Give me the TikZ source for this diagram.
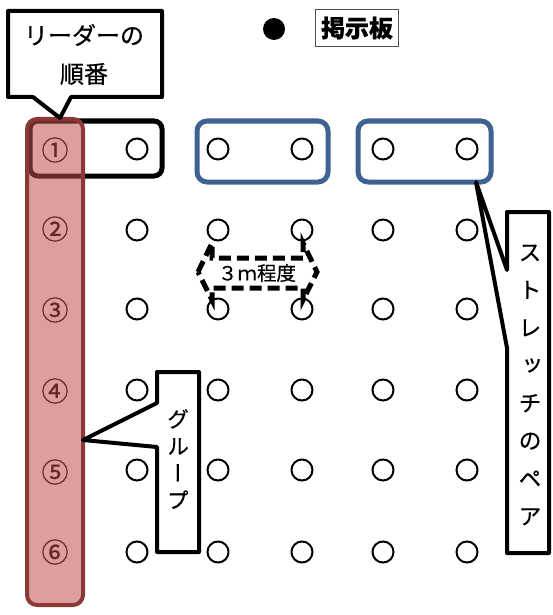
\documentclass[tikz,border=0pt]{standalone}
\usepackage{fontspec}
\newfontfamily\jp[FakeBold=0.5]{Noto Sans CJK JP}
\newfontfamily\jpn[FakeBold=0.8]{Noto Sans CJK JP}
\newfontfamily\jpv[RawFeature=+vert,FakeBold=0.5]{Noto Sans CJK JP}
\definecolor{pinkfill}{RGB}{192,80,77}
\definecolor{pinkline}{RGB}{140,56,54}
\definecolor{numred}{RGB}{105,36,36}
\definecolor{pairblue}{RGB}{62,99,145}
\definecolor{boardgray}{RGB}{80,80,80}
\tikzset{
  dot/.style={circle,draw=black,line width=2pt,fill=white,minimum size=21pt,inner sep=0pt},
  callout/.style={draw=black,fill=white,line width=4pt,line join=round},
  pairbox/.style={draw=pairblue,line width=5pt,rounded corners=10pt},
  rowbox/.style={draw=black,line width=5pt,rounded corners=8pt},
  lbl/.style={inner sep=0pt,font=\jp\fontsize{24}{28}\selectfont},
  vlbl/.style={inner sep=0pt,align=center},
  num/.style={inner sep=0pt,text=numred,font=\jpn\fontsize{27}{30}\selectfont},
  dist/.style={draw=black,line width=5pt,dash pattern=on 12pt off 6pt,line join=miter}
}
\begin{document}
\begin{tikzpicture}[x=1pt,y=-1pt]
\useasboundingbox (0,0) rectangle (552,615);
% row 1 box and pair boxes
\draw[rowbox] (30,121) rectangle (162,176);
\draw[pairbox] (197,121) rectangle (328,182);
\draw[pairbox] (358,121) rectangle (491,182);
% grid circles
\foreach \r/\y in {1/149,2/230,3/309,4/390,5/470,6/552}{
  \foreach \c/\x in {1/137,2/218,3/302,4/383,5/467}{
    \node[dot] (d\r\c) at (\x,\y) {};
  }
}
% distance marker
\draw[dist] (198,272) -- (212,243) -- (212,258) -- (303,258) -- (303,243)
  -- (317,272) -- (303,300) -- (303,288) -- (212,288) -- (212,300) -- cycle;
\node[inner sep=0pt,font=\jp\fontsize{19.5}{22}\selectfont] (dtxt) at (257,273) {３ｍ程度};
% group column
\draw[draw=pinkline,line width=4pt,fill=pinkfill,fill opacity=0.55,rounded corners=10pt]
  (27,119) rectangle (83,605);
\foreach \i/\s/\y in {1/①/150,2/②/229,3/③/310,4/④/391,5/⑤/472,6/⑥/552}{
  \node[num] (n\i) at (55,\y) {\s};
}
% board
\node[circle,fill=black,minimum size=22pt,inner sep=0pt] (bdot) at (274,29) {};
\node[draw=boardgray,line width=1.3pt,minimum width=83pt,minimum height=37pt,inner sep=0pt,
  font=\jp\bfseries\fontsize{24}{28}\selectfont] (board) at (357,28) {掲示板};
% leader callout
\draw[callout] (8,11) -- (162,11) -- (162,97) -- (71,97) -- (60,118) -- (33,97) -- (8,97) -- cycle;
\node[lbl] (lead1) at (84,35) {リーダーの};
\node[lbl] (lead2) at (84,74) {順番};
% group callout
\draw[callout] (157,372) -- (199,372) -- (199,552) -- (157,552) -- (157,447) -- (83,440) -- (157,403) -- cycle;
\node[vlbl,font=\jpv\fontsize{22}{27}\selectfont] (grp) at (178,459) {グ\\ル\\ー\\プ};
% stretch pair callout
\draw[callout] (507,212) -- (549,212) -- (549,553) -- (507,553) -- (507,348) -- (476,182) -- (507,270) -- cycle;
\node[vlbl,font=\jpv\fontsize{23}{37.7}\selectfont] (pair) at (530,385) {ス\\ト\\レ\\ッ\\チ\\の\\ペ\\ア};
\end{tikzpicture}
\end{document}
